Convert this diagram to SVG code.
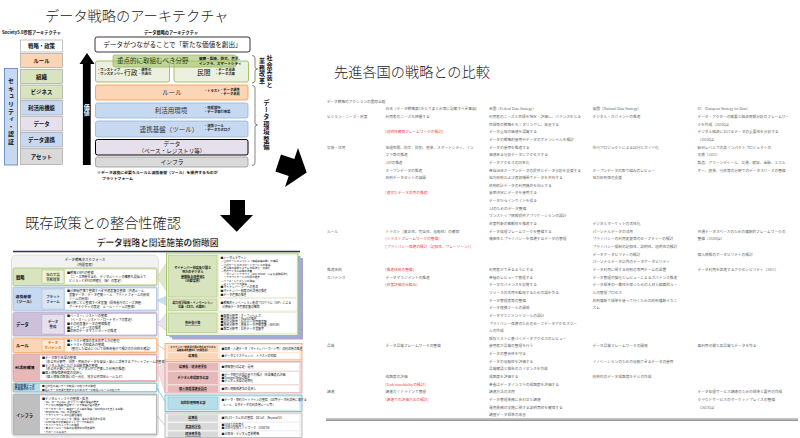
<svg xmlns="http://www.w3.org/2000/svg" width="800" height="438" viewBox="0 0 800 438">
<style>
.j{font-family:"Noto Sans CJK JP","Noto Sans",sans-serif;fill:#111}
.ttl{font-size:14.2px;fill:#222}
.lb{font-size:5.4px;font-weight:bold;text-anchor:middle}
.ar{font-size:6.5px;text-anchor:middle}
.sm{font-size:3.6px;font-weight:bold}
.vt{writing-mode:vertical-rl;font-weight:bold}
.tb{font-family:"Liberation Serif","Noto Sans CJK JP",serif;font-size:3.7px;fill:#666}
.red{fill:#f04848}
.bl{font-size:3.1px;fill:#222}
.bs{font-size:2.6px;fill:#222}
.rl{font-size:4.3px;font-weight:bold}
.sl{font-size:3.4px;text-anchor:middle;font-weight:bold}
.rt{font-size:2.9px;fill:#222}
.rlab{font-size:3.1px;text-anchor:middle;font-weight:bold}
.ul{text-decoration:underline}
</style>

<!-- ===== Section 1: Data strategy architecture ===== -->
<g id="arch-title">
<text class="j ttl" x="45" y="20.5" style="font-weight:300">データ戦略のアーキテクチャ</text>
<text class="j" x="2" y="34" style="font-size:4.2px;font-weight:bold">Society5.0参照アーキテクチャ</text>
<text class="j" x="171" y="34" style="font-size:4.2px;font-weight:bold;text-anchor:middle">データ戦略のアーキテクチャ</text>
</g>

<g id="society-stack">
<rect x="4.5" y="68.5" width="13" height="96.5" fill="#c6d9f1" stroke="#4f81bd" stroke-width="0.8"/>
<text class="j vt" x="11" y="78" style="font-size:6px;letter-spacing:1.6px">セキュリティ・認証</text>
<rect x="20.5" y="40" width="42" height="12" fill="#fff" stroke="#999" stroke-width="0.6"/>
<text class="j lb" x="41.5" y="48">戦略・政策</text>
<rect x="20.5" y="53.5" width="42" height="14" fill="#fcd5b4" stroke="#999" stroke-width="0.6"/>
<text class="j lb" x="41.5" y="62.5">ルール</text>
<rect x="20.5" y="69.5" width="42" height="14" fill="#d7e4bd" stroke="#999" stroke-width="0.6"/>
<text class="j lb" x="41.5" y="78.5">組織</text>
<rect x="20.5" y="85" width="42" height="14" fill="#d7e4bd" stroke="#999" stroke-width="0.6"/>
<text class="j lb" x="41.5" y="94">ビジネス</text>
<rect x="20.5" y="100.5" width="42" height="14.5" fill="#c6d9f1" stroke="#999" stroke-width="0.6"/>
<text class="j lb" x="41.5" y="109.7">利活用機能</text>
<rect x="20.5" y="116.5" width="42" height="14.5" fill="#e6e0ec" stroke="#999" stroke-width="0.6"/>
<text class="j lb" x="41.5" y="125.7">データ</text>
<rect x="20.5" y="132.5" width="42" height="14.5" fill="#c6d9f1" stroke="#999" stroke-width="0.6"/>
<text class="j lb" x="41.5" y="141.7">データ連携</text>
<rect x="20.5" y="148.5" width="42" height="16" fill="#d9d9d9" stroke="#999" stroke-width="0.6"/>
<text class="j lb" x="41.5" y="158.5">アセット</text>
</g>

<g id="value-arrow">
<polygon points="79.5,64 87,53 94.5,64 90.7,64 90.7,165 82.9,165 82.9,64" fill="#000"/>
<text class="j vt" x="86.8" y="104" style="font-size:6px;fill:#fff">価値</text>
</g>

<g id="arch-stack">
<rect x="95" y="37" width="155" height="15" rx="2" fill="#fff" stroke="#000" stroke-width="0.8"/>
<text class="j ar" x="172.5" y="46.8" style="font-size:6.6px">データがつながることで「新たな価値を創出」</text>
<rect x="95.5" y="61" width="74" height="21" rx="2" fill="#ebf1de" stroke="#9bbb59" stroke-width="0.9"/>
<rect x="174" y="61" width="74.5" height="21" rx="2" fill="#ebf1de" stroke="#9bbb59" stroke-width="0.9"/>
<rect x="113" y="55" width="123" height="12" rx="2" fill="#9bbb59" fill-opacity="0.55" stroke="#9bbb59" stroke-width="0.8"/>
<text class="j" x="117" y="63.3" style="font-size:6.5px;fill:#2d3d10">重点的に取組むべき分野</text>
<text class="j sm" x="199" y="60.3">健康・医療、防災、農業、</text>
<text class="j sm" x="199" y="64.6">インフラ、スマートシティ</text>
<text class="j" x="97" y="71" style="font-size:3.3px;font-weight:bold">・ワンストップ</text>
<text class="j" x="97" y="75" style="font-size:3.3px;font-weight:bold">・ワンスオンリー</text>
<text class="j" x="124" y="75.2" style="font-size:6.8px">行政</text>
<text class="j" x="138" y="71" style="font-size:3.3px;font-weight:bold">・標準化</text>
<text class="j" x="138" y="75" style="font-size:3.3px;font-weight:bold">・共通化</text>
<text class="j" x="197" y="75.2" style="font-size:6.8px">民間</text>
<text class="j" x="215" y="71" style="font-size:3.3px;font-weight:bold">・データ流通</text>
<text class="j" x="215" y="75" style="font-size:3.3px;font-weight:bold">・データ活用</text>

<rect x="95.5" y="85" width="152.5" height="15" rx="2" fill="#fbd5b5" stroke="#f79646" stroke-width="0.8"/>
<text class="j ar" x="172" y="95" style="fill:#333">ルール</text>
<text class="j" x="204" y="91.8" style="font-size:3.3px;font-weight:bold">・トラスト</text>
<text class="j" x="220" y="90.5" style="font-size:3.3px;font-weight:bold">・データ標準</text>
<text class="j" x="220" y="94.5" style="font-size:3.3px;font-weight:bold">・データ品質</text>

<rect x="95.5" y="103" width="152.5" height="15" rx="2" fill="#c6d9f1" stroke="#95b3d7" stroke-width="0.8"/>
<text class="j ar" x="171" y="113" style="fill:#333">利活用環境</text>
<text class="j" x="204" y="108.7" style="font-size:3.3px;font-weight:bold">・情報銀行</text>
<text class="j" x="204" y="112.7" style="font-size:3.3px;font-weight:bold">・データ取引市場</text>

<rect x="95.5" y="121" width="152.5" height="16" rx="2" fill="#c6d9f1" stroke="#95b3d7" stroke-width="0.8"/>
<text class="j ar" x="169" y="131.5" style="fill:#333">連携基盤（ツール）</text>
<text class="j" x="204" y="127.2" style="font-size:3.3px;font-weight:bold">・連携ツール</text>
<text class="j" x="204" y="131.2" style="font-size:3.3px;font-weight:bold">・データカタログ</text>

<rect x="95.5" y="139.5" width="152.5" height="15.5" rx="2" fill="#e6e0ec" stroke="#000" stroke-width="1"/>
<text class="j ar" x="172" y="146" style="font-size:5.6px">データ</text>
<text class="j ar" x="172" y="152.6" style="font-size:5.6px">（ベース・レジストリ等）</text>

<rect x="95.5" y="157" width="152.5" height="10" rx="2" fill="#d9d9d9" stroke="#999" stroke-width="0.8"/>
<text class="j ar" x="172" y="164.2" style="font-size:5.8px">インフラ</text>

<text class="j" x="97" y="173.5" style="font-size:3.9px;font-weight:bold">※データ連携に必要なルールと連携基盤（ツール）を提供するものが</text>
<text class="j" x="102" y="179.5" style="font-size:3.9px;font-weight:bold">プラットフォーム</text>
</g>

<g id="brackets">
<path d="M252,55.5 Q255,55.5 255,58 L255,66.5 Q255,69 257.5,69 Q255,69 255,71.5 L255,80.5 Q255,83 252,83" fill="none" stroke="#333" stroke-width="0.6"/>
<path d="M252,85.5 Q255,85.5 255,88 L255,122.5 Q255,125 257.5,125 Q255,125 255,127.5 L255,163 Q255,165.5 252,165.5" fill="none" stroke="#333" stroke-width="0.6"/>
<text class="j vt" x="269.5" y="55" style="font-size:6px;letter-spacing:0.6px">社会実装と</text>
<text class="j vt" x="262" y="58" style="font-size:6px;letter-spacing:0.6px">業務改革</text>
<text class="j vt" x="266.5" y="99" style="font-size:6.3px;letter-spacing:1.1px">データ環境整備</text>
</g>

<!-- ===== Arrows between sections ===== -->
<g id="arrows">
<polygon points="281,154.6 294.3,159 298,148 306.7,172.6 285,187 288.7,176 275.4,171.6" fill="#000"/>
<polygon points="230,200 245,200 245,215 253,215 236.7,231.7 220,215 230,215" fill="#000"/>
</g>

<!-- ===== Section 2: comparison with foreign strategies ===== -->
<g id="compare-title">
<text class="j ttl" x="334" y="77" style="font-weight:300">先進各国の戦略との比較</text>
</g>

<g id="compare-table" class="tb">
<text x="326.7" y="103">データ戦略のアクションの国際比較</text>
<text x="327">
<tspan x="327" y="117.95">ビジョン・ニーズ・政策</tspan>
<tspan x="327" y="148.55">実装・活用</tspan>
<tspan x="327" y="232.7">ルール</tspan>
<tspan x="327" y="270.95">推進体制</tspan>
<tspan x="327" y="278.6">ガバナンス</tspan>
<tspan x="327" y="347.45">品質</tspan>
<tspan x="327" y="393.35">調達</tspan>
</text>
<text>
<tspan x="385.5" y="110.3">日本（データ戦略第1次とりまとめ等に記載すべき事項）</tspan>
<tspan x="385.5" y="117.95">利用者のニーズを把握する</tspan>
<tspan x="385.5" y="133.25" class="red">[透明性確保フレームワークの検討]</tspan>
<tspan x="385.5" y="148.55">地理空間、防災、防犯、農業、スマートシティ、イン</tspan>
<tspan x="385.5" y="156.2">フラ等の推進</tspan>
<tspan x="385.5" y="163.85">APIの推進</tspan>
<tspan x="385.5" y="171.5">オープンデータの推進</tspan>
<tspan x="385.5" y="179.15">政府データセットの展開</tspan>
<tspan x="385.5" y="194.45" class="red">[適切なデータ活用の推進]</tspan>
<tspan x="385.5" y="232.7">トラスト（真正性、完全性、信頼性）の確保</tspan>
<tspan x="385.5" y="240.35" class="red">[トラストフレームワークの整備]</tspan>
<tspan x="385.5" y="248" class="red">[プライバシー保護の検討（記録性、グレーゾーン）]</tspan>
<tspan x="385.5" y="270.95" class="red">[推進体制の整備]</tspan>
<tspan x="385.5" y="278.6">データマネジメントの推進</tspan>
<tspan x="385.5" y="286.25" class="red">[政策評価の仕組み]</tspan>
<tspan x="385.5" y="347.45">データ品質フレームワークの整備</tspan>
<tspan x="385.5" y="378.05">成熟度の評価</tspan>
<tspan x="385.5" y="385.7" class="red">[Understandabilityの検討]</tspan>
<tspan x="385.5" y="393.35">調達ガイドラインで管理</tspan>
<tspan x="385.5" y="401" class="red">[調達での評価方法の検討]</tspan>
</text>
<text>
<tspan x="489" y="110.3">米国（Federal Data Strategy）</tspan>
<tspan x="489" y="117.95">利用者のニーズと目標を特定・評価し、バランスをとる</tspan>
<tspan x="489" y="125.6">目標等の戦略をモニタリングし、改善する</tspan>
<tspan x="489" y="133.25">データ重視の価値を認識する</tspan>
<tspan x="489" y="140.9">データの戦略的使用やデータのポテンシャルを検討</tspan>
<tspan x="489" y="148.55">データの使用を推進する</tspan>
<tspan x="489" y="156.2">価値ある分析データにアクセスする</tspan>
<tspan x="489" y="163.85">データアクセスの効率化</tspan>
<tspan x="489" y="171.5">各自治体オープンデータの提供とデータ分析を支援する</tspan>
<tspan x="489" y="179.15">地方政府および連邦機関でデータを共有する</tspan>
<tspan x="489" y="186.8">政府統計データの利用機会を向上する</tspan>
<tspan x="489" y="194.45">意思決定にデータを使用する</tspan>
<tspan x="489" y="202.1">データからインサイトを得る</tspan>
<tspan x="489" y="209.75">AIのためのデータ整備</tspan>
<tspan x="489" y="217.4">ワンストップ情報提供アプリケーションの設計</tspan>
<tspan x="489" y="225.05">政策判断の客観性を推進する</tspan>
<tspan x="489" y="232.7">データ倫理フレームワークを整備する</tspan>
<tspan x="489" y="240.35">機密性とプライバシーを保護するデータの管理</tspan>
<tspan x="489" y="270.95">利用者ができるようにする</tspan>
<tspan x="489" y="278.6">各種のレビューで管理する</tspan>
<tspan x="489" y="286.25">データガバナンスを実施する</tspan>
<tspan x="489" y="293.9">リソースの活用を監視するための場を作る</tspan>
<tspan x="489" y="301.55">データ管理者等の整備</tspan>
<tspan x="489" y="309.2">データ連携ツールの開発</tspan>
<tspan x="489" y="316.85">データマネジメントツールの設計</tspan>
<tspan x="489" y="324.5">プライバシー保護のためのセーフデータアクセスツー</tspan>
<tspan x="489" y="332.15">ルの作成</tspan>
<tspan x="489" y="339.8">既存リストに基づくデータアクセスのレビュー</tspan>
<tspan x="489" y="347.45">使用者が品質の整理を行う</tspan>
<tspan x="489" y="355.1">データの整合性を守る</tspan>
<tspan x="489" y="362.75">データの信頼性を評価する</tspan>
<tspan x="489" y="370.4">品質確認と報告のガイダンスを作成</tspan>
<tspan x="489" y="378.05">成熟度を評価する</tspan>
<tspan x="489" y="385.7">各省はデータインフラの成熟度を評価する</tspan>
<tspan x="489" y="393.35">調達方法の活用</tspan>
<tspan x="489" y="401">データ管理業務に合わせた調達</tspan>
<tspan x="489" y="408.65">運用業務の実施に関する説明責任を確保する</tspan>
<tspan x="489" y="416.3">調査データ標準の改善</tspan>
</text>
<text>
<tspan x="592.5" y="110.3">英国（National Data Strategy）</tspan>
<tspan x="592.5" y="117.95">デジタル・ガバメントの推進</tspan>
<tspan x="592.5" y="148.55">先行プロジェクトによる試行とガイド化</tspan>
<tspan x="592.5" y="171.5">オープンデータの取り組みのレビュー</tspan>
<tspan x="592.5" y="179.15">地方政府側の支援</tspan>
<tspan x="592.5" y="225.05">デジタルマーケットの活性化</tspan>
<tspan x="592.5" y="232.7">パーソナルデータの活用</tspan>
<tspan x="592.5" y="240.35">プライバシーの利用変更等のセーフティーの検討</tspan>
<tspan x="592.5" y="248">プライバシー規制の記録性、説明性、透明性の検討</tspan>
<tspan x="592.5" y="255.65">データポータビリティの検討</tspan>
<tspan x="592.5" y="263.3">パーソナルデータ以外のデータポータビリティ</tspan>
<tspan x="592.5" y="270.95">データ利用に関する政府の専門チームの設置</tspan>
<tspan x="592.5" y="278.6">データ管理の強化とレビューによるガバナンス推進</tspan>
<tspan x="592.5" y="286.25">データ標準の一貫性を保つための人材と組織的ルー</tspan>
<tspan x="592.5" y="293.9">ルの管理プロセス</tspan>
<tspan x="592.5" y="301.55">政府横断で標準を使って行くための政府横断メカニ</tspan>
<tspan x="592.5" y="309.2">ズム</tspan>
<tspan x="592.5" y="347.45">データ品質フレームワークの開発</tspan>
<tspan x="592.5" y="362.75">イノベーションのための信頼できるデータの使用</tspan>
<tspan x="592.5" y="378.05">政府内のデータ成熟度モデルの作成</tspan>
</text>
<text>
<tspan x="697.5" y="110.3">EC（European Strategy for Data）</tspan>
<tspan x="697.5" y="117.95">データ・アクターの需要と経済情報分析のフレームワー</tspan>
<tspan x="697.5" y="125.6">クを作成（2020Q4）</tspan>
<tspan x="697.5" y="133.25">デジタル経済におけるデータの重要性を分析する</tspan>
<tspan x="697.5" y="140.9">（2020Q4）</tspan>
<tspan x="697.5" y="148.55">欧州レベルでの高インパクトプロジェクトの</tspan>
<tspan x="697.5" y="156.2">実施（2022）</tspan>
<tspan x="697.5" y="163.85">製造、グリーンディール、交通、健康、金融、エネル</tspan>
<tspan x="697.5" y="171.5">ギー、農業、行政等の分野でのデータスペースの整備</tspan>
<tspan x="697.5" y="232.7">共通データスペースのための横断的フレームワークの</tspan>
<tspan x="697.5" y="240.35">整備（2020Q4）</tspan>
<tspan x="697.5" y="255.65">個人情報のポータビリティの検討</tspan>
<tspan x="697.5" y="270.95">データ利用を促進するアクセシビリティ（2021）</tspan>
<tspan x="697.5" y="347.45">再利用可能な高品質なデータを作る</tspan>
<tspan x="697.5" y="393.35">データ処理サービス調達のための標準と要件の作成</tspan>
<tspan x="697.5" y="401">クラウドサービスのマーケットプレイスの整備</tspan>
<tspan x="697.5" y="408.65">（2022Q4）</tspan>
</text>
<line x1="326" y1="419" x2="798" y2="419" stroke="#555" stroke-width="0.7"/>
<line x1="326" y1="420.4" x2="798" y2="420.4" stroke="#555" stroke-width="0.7"/>
</g>

<!-- ===== Section 3: consistency with existing policies ===== -->
<g id="policy-title">
<text class="j ttl" x="25" y="228" style="font-weight:300">既存政策との整合性確認</text>
<text class="j" x="157.5" y="246" style="font-size:8.7px;font-weight:900;text-anchor:middle;stroke:#fff;stroke-width:0.3">データ戦略と関連施策の俯瞰図</text>
<line x1="13" y1="252.4" x2="300" y2="252.4" stroke="#bfbfbf" stroke-width="1"/>
<line x1="13" y1="251.4" x2="300" y2="251.4" stroke="#2e2e7a" stroke-width="1.3"/>
</g>

<g id="taskforce-panel">
<rect x="11.5" y="255" width="147" height="182" rx="5" fill="#f2f2f2" stroke="#d9d9d9" stroke-width="0.8"/>
<text class="j" x="85" y="261" style="font-size:3.4px;text-anchor:middle">データ戦略タスクフォース</text>
<text class="j" x="85" y="265.5" style="font-size:3.4px;text-anchor:middle">（内閣官房）</text>
</g>

<g id="row-strategy">
<rect x="13" y="268" width="144" height="17.5" rx="1.5" fill="#d7e4bd" stroke="#9bbb59" stroke-width="0.6"/>
<text class="j rl" x="16" y="278.5">戦略</text>
<rect x="42" y="270" width="22" height="13.5" fill="#ebf1de" stroke="#9bbb59" stroke-width="0.4"/>
<text class="j sl ul" x="53" y="276" style="fill:#4f6228">社会実装</text>
<text class="j sl" x="53" y="280.5" style="fill:#4f6228">業務改革</text>
<rect x="65" y="269.5" width="91" height="14.5" fill="#fff"/>
<text class="j bl" x="67" y="273.5">■戦略とKPIの整備</text>
<text class="j bl" x="69" y="277.6">（ニーズ把握を含め、デジタルツインの構築も見据えて</text>
<text class="j bl" x="69" y="281.7">ビジョンとKPIの明確化（仮）の策定）</text>
</g>

<g id="row-platform">
<rect x="13" y="287" width="144" height="24" rx="1.5" fill="#c6d9f1" stroke="#95b3d7" stroke-width="0.6"/>
<text class="j rl" x="15.5" y="297.5" style="font-size:3.9px">連携基盤</text>
<text class="j rl" x="14.5" y="303" style="font-size:3.9px">（ツール）</text>
<rect x="42" y="289" width="22" height="20" fill="#dbe5f1" stroke="#95b3d7" stroke-width="0.4"/>
<text class="j sl" x="53" y="297.5" style="fill:#1f497d">プラット</text>
<text class="j sl" x="53" y="302.5" style="fill:#1f497d">フォーム</text>
<rect x="65" y="288.5" width="91" height="21" fill="#fff"/>
<text class="j bl" x="67" y="292">■分野間連携で整備すべき共通基盤の整備（共通ルール、</text>
<text class="j bl" x="69" y="295.8">基盤データ、データ連携ツール／プラットフォームの開発</text>
<text class="j bl" x="69" y="299.6">ツールの開発）</text>
<text class="j bl" x="67" y="304">■分野ごとに整備すべき基盤（関係省庁のニーズ把握、</text>
<text class="j bl" x="69" y="307.8">アーキテクチャの策定、ルール・ツールの整備）</text>
</g>

<g id="row-data">
<rect x="13" y="312.5" width="144" height="23.5" rx="1.5" fill="#ccc0da" stroke="#b3a2c7" stroke-width="0.6"/>
<text class="j rl" x="16" y="325.5">データ</text>
<rect x="42" y="314.5" width="22" height="19.5" fill="#e6e0ec" stroke="#b3a2c7" stroke-width="0.4"/>
<text class="j sl" x="53" y="322.5" style="fill:#403152">データ</text>
<text class="j sl" x="53" y="327.5" style="fill:#403152">整備</text>
<rect x="65" y="314" width="91" height="20.5" fill="#fff"/>
<text class="j bl" x="67" y="317.2">■ベース・レジストリの整備</text>
<text class="j bl" x="69" y="321">（ベース・レジストリ・ロードマップの策定）</text>
<text class="j bl" x="67" y="324.8">■その他基盤データの整備推進</text>
<text class="j bl" x="67" y="328.6">■オープンデータの推進</text>
<text class="j bl" x="67" y="332.4">■政府のデータマネジメントの推進</text>
</g>

<g id="row-rule">
<rect x="13" y="338" width="144" height="14.5" rx="1.5" fill="#fbd5b5" stroke="#f79646" stroke-width="0.6"/>
<text class="j rl" x="16" y="346.8">ルール</text>
<rect x="42" y="339.5" width="22" height="11.5" fill="#fde9d9" stroke="#f79646" stroke-width="0.4"/>
<text class="j sl" x="53" y="344.3" style="fill:#e46c0a">データ</text>
<text class="j sl" x="53" y="348.8" style="fill:#e46c0a">ガバナンス</text>
<rect x="65" y="339.2" width="91" height="12" fill="#fff"/>
<text class="j bl" x="67" y="342.2">■トラスト確保の基本的考え方の整理</text>
<text class="j bl" x="67" y="346">■トラストの枠組みの整備</text>
<text class="j bl" x="69" y="349.9">（整理した論点について関係府省庁で検討の方向性を確認）</text>
</g>

<g id="row-use">
<rect x="13" y="354" width="144" height="27.5" rx="1.5" fill="#e6b9b8" stroke="#d99694" stroke-width="0.6"/>
<text class="j rl" x="15" y="369" style="font-size:3.9px">利活用環境</text>
<rect x="40" y="355.5" width="116" height="24.5" fill="#fff"/>
<text class="j bl" x="42" y="359">■データ取引市場の整備</text>
<text class="j bl" x="44" y="362.8">（準公共分野等、国民・民間のデータを安全・安心に活用するプラットフォームの整備）</text>
<text class="j bl" x="42" y="366.6">■デジタル社会における信頼基盤の整備</text>
<text class="j bl" x="44" y="370.4">（準公共分野における、デジタル庁と連携した利用の推進）</text>
<text class="j bl" x="42" y="374.2">■個人情報保護制度の見直し</text>
<text class="j bl" x="44" y="378">（個人情報の取扱いの一元化、地方公共団体ルールなど）</text>
</g>

<g id="row-public-data">
<rect x="13" y="383" width="144" height="9" rx="1.5" fill="#b7dee8" stroke="#4bacc6" stroke-width="0.6"/>
<text class="j" x="14.5" y="386.8" style="font-size:2.9px;font-weight:bold;fill:#17375e">国民情報データ</text>
<text class="j" x="14.5" y="390.3" style="font-size:2.9px;font-weight:bold;fill:#17375e">の取扱の在り方</text>
<rect x="40" y="384" width="116" height="7" fill="#fff"/>
<text class="j" x="42" y="386.9" style="font-size:2.7px;fill:#222">■公共性の高いデータ取扱いの在り方の整理</text>
<text class="j" x="42" y="390.5" style="font-size:2.7px;fill:#222">■個人データ流通を推進するためのデータ取扱いルールの在り方</text>
</g>

<g id="row-infra">
<rect x="13" y="394" width="144" height="41" rx="1.5" fill="#bfbfbf" stroke="#a6a6a6" stroke-width="0.6"/>
<text class="j rl" x="16" y="416.5">インフラ</text>
<rect x="40" y="395.5" width="116" height="38" fill="#fff"/>
<text class="j bl" x="42" y="399.5">■デジタルインフラの整備・拡充</text>
<text class="j bs" x="43" y="403">・5G、ローカル5G、光ファイバ網の整備の推進</text>
<text class="j bs" x="43" y="406.3">・デジタル田園都市国家インフラ整備計画の推進</text>
<text class="j bs" x="43" y="409.6">・データセンター、海底ケーブル等の整備（Society5.0を支える基盤）</text>
<text class="j bs" x="43" y="412.9">・Beyond 5G（6G）の研究開発</text>
<text class="j bs" x="43" y="416.2">・クラウドサービスの信頼性確保</text>
<text class="j bs" x="43" y="419.5">・スーパーコンピュータ（富岳）等の計算資源の活用</text>
<text class="j bs" x="43" y="422.8">・SINET等の学術情報ネットワークの高度化</text>
<text class="j bs" x="43" y="426.1">・サイバーセキュリティの確保</text>
<text class="j bs" x="43" y="429.4">・量子コンピュータ等の先端技術の研究開発</text>
<text class="j bs" x="43" y="432.7">・グローバルな協力</text>
</g>

<g id="connectors">
<polygon points="157,277 167,262 167,292" fill="#d7e4bd" fill-opacity="0.8" stroke="#9bbb59" stroke-width="0.3"/>
<polygon points="157,300 167,296 167,306" fill="#c6d9f1" fill-opacity="0.9" stroke="#95b3d7" stroke-width="0.3"/>
<polygon points="157,324 167,313 167,331" fill="#e6e0ec" fill-opacity="0.9" stroke="#b3a2c7" stroke-width="0.3"/>
<line x1="157" y1="344" x2="165" y2="350" stroke="#f79646" stroke-width="0.6"/>
<polygon points="157,368 165,363 165,392" fill="#f2dcdb" fill-opacity="0.9" stroke="#d99694" stroke-width="0.3"/>
<line x1="157" y1="388" x2="165" y2="401" stroke="#4bacc6" stroke-width="0.6"/>
<line x1="157" y1="416" x2="165" y2="425" stroke="#a6a6a6" stroke-width="0.6"/>
</g>

<g id="green-panel">
<rect x="172" y="258" width="131" height="81.5" fill="#b3a2c7"/>
<rect x="169.5" y="256" width="131" height="81.5" fill="#95b3d7"/>
<rect x="166.5" y="253" width="131.5" height="82.5" fill="#ebf1de" stroke="#9bbb59" stroke-width="0.8"/>
<rect x="168.5" y="255.5" width="48.5" height="41.5" fill="#d7e4bd" stroke="#9bbb59" stroke-width="0.4"/>
<text class="j rlab" x="192.7" y="268.5">マイナンバー制度及び国と</text>
<text class="j rlab" x="192.7" y="273">地方のデジタル</text>
<text class="j rlab ul" x="192.7" y="277.5">基盤抜本改善WG</text>
<text class="j rlab" x="192.7" y="282">（内閣官房）</text>
<rect x="219" y="255.5" width="77.5" height="41.5" fill="#fff"/>
<text class="j rt" x="220.5" y="259">■トータルデザイン</text>
<text class="j bs" x="221" y="262.3">－公共サービスメッシュ（情報連携基盤）の構築</text>
<text class="j bs" x="221" y="265.5">－公共サービスのフロントサービスの整備</text>
<text class="j bs" x="221" y="268.7">－自治体の業務システムの標準化・共通化</text>
<text class="j bs" x="221" y="271.9">－地方デジタル基盤の改善</text>
<text class="j bs" x="221" y="275.1">　・ガバメントクラウド（Gov-Cloud）による業務標準化</text>
<text class="j bs" x="221" y="278.3">　・クラウドサービス利用の推進</text>
<text class="j bs" x="221" y="281.5">－ベース・レジストリの整備</text>
<text class="j bs" x="221" y="284.7">－ネットワークの整備</text>
<text class="j rt" x="220.5" y="288.3">■マイナンバーカードの普及</text>
<text class="j rt" x="220.5" y="292">■マイナンバー制度の利活用の推進</text>
<text class="j rt" x="220.5" y="295.6">■データ連携の推進</text>
<rect x="168.5" y="299" width="48.5" height="11.5" fill="#d7e4bd" stroke="#9bbb59" stroke-width="0.4"/>
<text class="j rlab" x="192.7" y="303.8" style="font-size:2.9px">総合科学技術・イノベーション</text>
<text class="j rlab" x="192.7" y="307.8" style="font-size:2.9px">会議（CSTI、内閣府）</text>
<rect x="219" y="299" width="77.5" height="11.5" fill="#fff"/>
<text class="j rt" x="220.5" y="303.5">■戦略的イノベーション創造プログラム（SIP）による</text>
<text class="j rt" x="222" y="307.5">分野間データ連携基盤の構築</text>
<rect x="168.5" y="313" width="48.5" height="19.5" fill="#d7e4bd" stroke="#9bbb59" stroke-width="0.4"/>
<text class="j rlab ul" x="192.7" y="324">各府省庁等</text>
<rect x="219" y="313" width="77.5" height="19.5" fill="#fff"/>
<text class="j rt" x="220.5" y="316.5">■医療分野等：オープンヘルス</text>
<text class="j rt" x="220.5" y="319.8">■交通分野等：MaaSの推進</text>
<text class="j rt" x="220.5" y="323.1">■防災分野等：防災データ連携基盤</text>
<text class="j rt" x="220.5" y="326.4">■農業分野等：農業データ連携基盤（WAGRI）</text>
<text class="j rt" x="220.5" y="329.7">■教育分野等：公共データ基盤等</text>
</g>

<g id="orange-group">
<rect x="165" y="343.5" width="137" height="16.5" fill="#fde9d9" stroke="#f79646" stroke-width="0.7"/>
<rect x="168" y="345" width="50" height="7" fill="#fbd5b5"/>
<text class="j rlab" x="193" y="348" style="font-size:2.4px">マイナンバー制度及び国と地方のデジタル</text>
<text class="j rlab" x="193" y="351" style="font-size:2.4px">基盤抜本改善WG（内閣官房）</text>
<rect x="220" y="345" width="79" height="7" fill="#fff"/>
<text class="j rt" x="221.5" y="349.5">■医療・介護データ（マイナンバーカード等）の利活用の推進</text>
<rect x="168" y="353.3" width="50" height="5.5" fill="#fbd5b5"/>
<text class="j rlab" x="193" y="357.2">総務省</text>
<rect x="220" y="353.3" width="79" height="5.5" fill="#fff"/>
<text class="j rt" x="221.5" y="357.1">■データエクスチェンジ、トラストの枠組</text>
</g>

<g id="pink-group">
<rect x="165" y="361.5" width="137" height="31.5" fill="#f2dcdb" stroke="#d99694" stroke-width="0.7"/>
<rect x="168" y="363" width="50" height="7.5" fill="#e6b9b8"/>
<text class="j rlab" x="193" y="367.8">総務省／経済産業省</text>
<rect x="220" y="363" width="79" height="7.5" fill="#fff"/>
<text class="j rt" x="221.5" y="367.7">■情報銀行の認定・運用</text>
<rect x="168" y="372" width="50" height="12" fill="#e6b9b8"/>
<text class="j rlab" x="193" y="379">デジタル市場競争本部</text>
<rect x="220" y="372" width="79" height="12" fill="#fff"/>
<text class="j rt" x="221.5" y="375.5">■データ取引市場のあり方検討（市場構造の評価）</text>
<text class="j rt" x="221.5" y="378.9">■Trusted Webの推進</text>
<text class="j rt" x="221.5" y="382.3">■デジタル市場の透明化</text>
<rect x="168" y="385.5" width="50" height="6.5" fill="#e6b9b8"/>
<text class="j rlab ul" x="193" y="389.8">個人情報保護委員会</text>
<rect x="220" y="385.5" width="79" height="6.5" fill="#fff"/>
<text class="j rt" x="221.5" y="389.7">■個人情報保護法の見直し</text>
</g>

<g id="cyan-group">
<rect x="165" y="395" width="137" height="16.5" fill="#daeef3" stroke="#4bacc6" stroke-width="0.7"/>
<rect x="168" y="397" width="50" height="12.5" fill="#b7dee8" stroke="#4bacc6" stroke-width="0.3"/>
<text class="j rlab" x="193" y="404.3">知的財産戦略本部</text>
<rect x="220" y="397" width="79" height="12.5" fill="#fff"/>
<text class="j rt" x="221.5" y="401.3">■データ・契約ガイドラインの整備（OD等データ利活用に資する</text>
<text class="j rt" x="223" y="405.8">ルール、公共データの利活用ルール等）</text>
</g>

<g id="gray-group">
<rect x="165" y="413" width="137" height="24.5" fill="#f2f2f2" stroke="#a6a6a6" stroke-width="0.7"/>
<rect x="168" y="414.5" width="50" height="7" fill="#d9d9d9"/>
<text class="j rlab ul" x="193" y="419">総務省</text>
<rect x="220" y="414.5" width="79" height="7" fill="#fff"/>
<text class="j rt" x="221.5" y="418.9">■5G/ローカル5Gの整備、DX-IoT、Beyond 5G</text>
<rect x="168" y="423" width="50" height="7" fill="#d9d9d9"/>
<text class="j rlab ul" x="193" y="427.5">文部科学省</text>
<rect x="220" y="423" width="79" height="7" fill="#fff"/>
<text class="j rt" x="221.5" y="425.9">■SINETの高度化</text>
<text class="j rt" x="221.5" y="429.2">■次世代学術ネットワーク（SINET6）</text>
<rect x="168" y="431.5" width="50" height="5.5" fill="#d9d9d9"/>
<text class="j rlab ul" x="193" y="435.3">経済産業省</text>
<rect x="220" y="431.5" width="79" height="5.5" fill="#fff"/>
<text class="j rt" x="221.5" y="435.2">■半導体・デジタル産業戦略</text>
</g>
</svg>
